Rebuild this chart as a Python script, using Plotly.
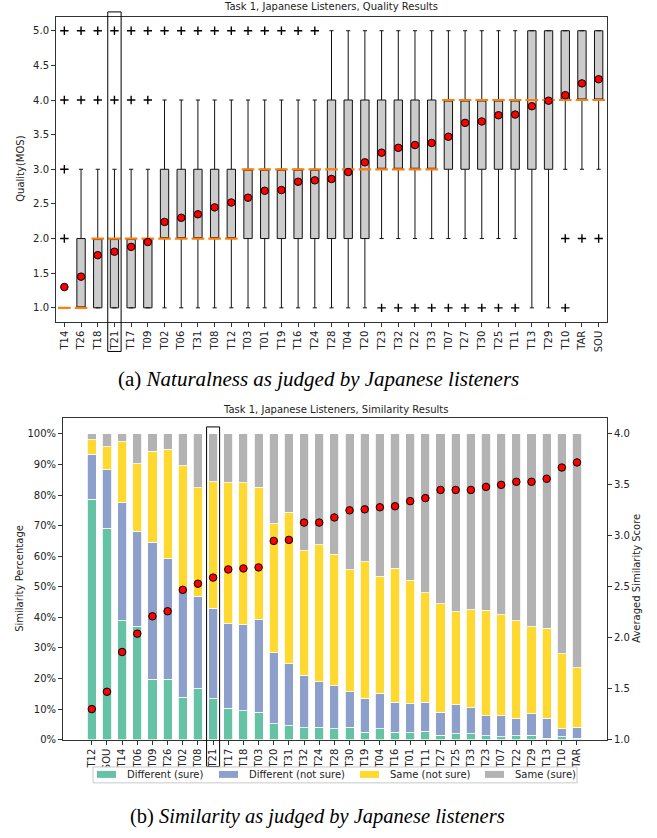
import plotly.graph_objects as go

W, H = 657, 838

# ---------------- Top chart data (Quality MOS) ----------------
cats_top = ["T14", "T26", "T18", "T21", "T17", "T09", "T02", "T06", "T31", "T08", "T12",
            "T03", "T01", "T19", "T16", "T24", "T28", "T04", "T20", "T23", "T32", "T22",
            "T33", "T07", "T27", "T30", "T25", "T11", "T13", "T29", "T10", "TAR", "SOU"]
lower_whisker = [1, 1, 1, 1, 1, 1, 1, 1, 1, 1, 1, 1, 1, 1, 1, 1, 1, 1, 1, 2, 2, 2, 2, 2, 2, 2, 2, 2, 1, 1, 3, 3, 3]
q1_vals =       [1, 1, 1, 1, 1, 1, 2, 2, 2, 2, 2, 2, 2, 2, 2, 2, 2, 2, 2, 3, 3, 3, 3, 3, 3, 3, 3, 3, 3, 3, 4, 4, 4]
median_vals =   [1, 1, 2, 2, 2, 2, 2, 2, 2, 2, 2, 3, 3, 3, 3, 3, 3, 3, 3, 3, 3, 3, 3, 4, 4, 4, 4, 4, 4, 4, 4, 4, 4]
q3_vals =       [1, 2, 2, 2, 2, 2, 3, 3, 3, 3, 3, 3, 3, 3, 3, 3, 4, 4, 4, 4, 4, 4, 4, 4, 4, 4, 4, 4, 5, 5, 5, 5, 5]
upper_whisker = [1, 3, 3, 3, 3, 3, 4, 4, 4, 4, 4, 4, 4, 4, 4, 4, 5, 5, 5, 5, 5, 5, 5, 5, 5, 5, 5, 5, 5, 5, 5, 5, 5]
mean_top = [1.30, 1.45, 1.76, 1.81, 1.88, 1.95, 2.24, 2.30, 2.35, 2.45, 2.52,
            2.59, 2.69, 2.70, 2.82, 2.84, 2.86, 2.96, 3.10, 3.24, 3.31, 3.35,
            3.38, 3.47, 3.67, 3.69, 3.78, 3.79, 3.91, 3.99, 4.07, 4.24, 4.30]
outliers = {
    "T14": [2, 3, 4, 5], "T26": [4, 5], "T18": [4, 5], "T21": [4, 5], "T17": [4, 5], "T09": [4, 5],
    "T02": [5], "T06": [5], "T31": [5], "T08": [5], "T12": [5], "T03": [5], "T01": [5],
    "T19": [5], "T16": [5], "T24": [5],
    "T23": [1], "T32": [1], "T22": [1], "T33": [1], "T07": [1], "T27": [1], "T30": [1],
    "T25": [1], "T11": [1], "T10": [1, 2], "TAR": [2], "SOU": [2],
}
y_ticks_top = [1.0, 1.5, 2.0, 2.5, 3.0, 3.5, 4.0, 4.5, 5.0]

# ---------------- Bottom chart data (Similarity) ----------------
cats_bot = ["T12", "SOU", "T14", "T06", "T09", "T26", "T02", "T08", "T21", "T17", "T18",
            "T03", "T20", "T31", "T32", "T24", "T28", "T30", "T19", "T04", "T16", "T01",
            "T11", "T27", "T25", "T33", "T23", "T07", "T22", "T29", "T13", "T10", "TAR"]
diff_sure = [78.7, 69.2, 38.9, 37.1, 19.7, 19.7, 13.8, 16.8, 13.3, 10.3, 9.4,
             9.0, 5.2, 4.5, 3.9, 4.1, 3.5, 4.0, 2.5, 3.5, 2.5, 2.2,
             2.8, 1.5, 1.9, 1.9, 1.3, 1.0, 1.3, 1.5, 0.5, 1.0, 0.4]
diff_notsure = [14.7, 19.1, 38.5, 31.0, 44.9, 39.5, 35.4, 30.1, 29.7, 27.8, 28.2,
                30.4, 23.3, 20.4, 17.2, 14.8, 14.1, 11.6, 11.1, 11.6, 9.7, 9.6,
                9.5, 7.5, 9.5, 8.6, 6.6, 6.9, 5.7, 6.9, 6.5, 2.5, 3.7]
same_notsure = [4.7, 7.5, 20.0, 22.2, 29.8, 35.8, 40.4, 35.5, 41.3, 45.9, 46.4,
                43.2, 42.3, 49.5, 40.7, 44.8, 43.0, 39.9, 44.6, 38.3, 43.9, 40.4,
                35.7, 35.4, 30.4, 32.0, 34.5, 33.0, 31.9, 28.5, 29.4, 24.6, 19.4]
same_sure = [1.9, 4.2, 2.6, 9.7, 5.6, 5.0, 10.4, 17.6, 15.7, 16.0, 16.0,
             17.4, 29.2, 25.6, 38.2, 36.3, 39.4, 44.5, 41.8, 46.6, 43.9, 47.8,
             52.0, 55.6, 58.2, 57.5, 57.6, 59.1, 61.1, 63.1, 63.6, 71.9, 76.5]
mean_sim = [1.30, 1.47, 1.86, 2.04, 2.21, 2.26, 2.47, 2.53, 2.59, 2.67, 2.68,
            2.69, 2.95, 2.96, 3.13, 3.13, 3.18, 3.25, 3.26, 3.28, 3.29, 3.34,
            3.37, 3.45, 3.45, 3.45, 3.48, 3.50, 3.53, 3.53, 3.56, 3.67, 3.72]
series_names = ["Different (sure)", "Different (not sure)", "Same (not sure)", "Same (sure)"]
series_colors = ["#66c2a5", "#8da0cb", "#ffd92f", "#b3b3b3"]
pct_ticks = [0, 10, 20, 30, 40, 50, 60, 70, 80, 90, 100]
pct_labels = [f"{v}%" for v in pct_ticks]
score_ticks = [1.0, 1.5, 2.0, 2.5, 3.0, 3.5, 4.0]

FONT = "DejaVu Sans"
TXT = "#222222"
AX = "#333333"

def px_x(p):
    return p / W

def px_y(p):
    return 1 - p / H

fig = go.Figure()

# ---- top: boxes ----
fig.add_trace(go.Box(
    x=cats_top, q1=q1_vals, median=median_vals, q3=q3_vals,
    lowerfence=lower_whisker, upperfence=upper_whisker,
    width=0.5, whiskerwidth=0.5, fillcolor="#cccccc",
    line=dict(color="#111111", width=1), showlegend=False,
    xaxis="x", yaxis="y", hoverinfo="skip",
))
fig.add_trace(go.Scatter(
    x=cats_top, y=median_vals, mode="markers",
    marker=dict(symbol="line-ew", size=9, line=dict(color="#ff7f0e", width=2.2)),
    showlegend=False, xaxis="x", yaxis="y", hoverinfo="skip",
))
ox, oy = [], []
for c in cats_top:
    for v in outliers.get(c, []):
        ox.append(c)
        oy.append(v)
fig.add_trace(go.Scatter(
    x=ox, y=oy, mode="markers",
    marker=dict(symbol="cross-thin", size=6, line=dict(color="black", width=1.4)),
    showlegend=False, xaxis="x", yaxis="y", hoverinfo="skip",
))
fig.add_trace(go.Scatter(
    x=cats_top, y=mean_top, mode="markers",
    marker=dict(symbol="circle", size=7.5, color="red", line=dict(color="black", width=1)),
    showlegend=False, xaxis="x", yaxis="y", hoverinfo="skip",
))

# ---- bottom: stacked bars ----
for name, vals, col in zip(series_names, [diff_sure, diff_notsure, same_notsure, same_sure], series_colors):
    fig.add_trace(go.Bar(
        x=cats_bot, y=vals, name=name, width=0.6,
        marker=dict(color=col, line=dict(color="white", width=0.8)),
        xaxis="x2", yaxis="y2", hoverinfo="skip", showlegend=False,
    ))
fig.add_trace(go.Scatter(
    x=cats_bot, y=mean_sim, mode="markers",
    marker=dict(symbol="circle", size=7.5, color="red", line=dict(color="black", width=1)),
    showlegend=False, xaxis="x2", yaxis="y3", hoverinfo="skip",
))

axis_common = dict(
    showline=True, linecolor=AX, linewidth=1, mirror=True,
    ticks="outside", ticklen=4, tickcolor=AX, tickwidth=1,
    showgrid=False, zeroline=False,
    tickfont=dict(family=FONT, size=10, color=TXT),
)

fig.update_layout(
    width=W, height=H,
    margin=dict(l=0, r=0, t=0, b=0),
    paper_bgcolor="white", plot_bgcolor="white",
    barmode="stack",
    showlegend=False,
    font=dict(family=FONT, size=10, color=TXT),
    xaxis=dict(domain=[px_x(56), px_x(607)], anchor="y", type="category",
               categoryorder="array", categoryarray=cats_top,
               range=[-0.5, len(cats_top) - 0.5], tickangle=-90, **axis_common),
    yaxis=dict(domain=[px_y(324), px_y(17)], anchor="x", range=[0.8, 5.2],
               tickvals=y_ticks_top, tickformat=".1f", **axis_common),
    xaxis2=dict(domain=[px_x(63), px_x(607)], anchor="y2", type="category",
                categoryorder="array", categoryarray=cats_bot,
                range=[-1.9, len(cats_bot) + 0.98], tickangle=-90, **axis_common),
    yaxis2=dict(domain=[px_y(745), px_y(421)], anchor="x2", range=[0, 105.2],
                tickvals=pct_ticks, ticktext=pct_labels, **axis_common),
    yaxis3=dict(overlaying="y2", anchor="x2", side="right", range=[1.0, 1.0 + 3.0 * 105.2 / 100],
                tickvals=score_ticks, tickformat=".1f",
                showline=False, ticks="outside", ticklen=4, tickcolor=AX,
                showgrid=False, zeroline=False,
                tickfont=dict(family=FONT, size=10, color=TXT)),
)

small = dict(size=10, family=FONT, color=TXT)
cap = dict(size=21, family="Liberation Serif", color="black")
ann = [
    dict(text="Task 1, Japanese Listeners, Quality Results", x=px_x(331), y=px_y(7), font=small),
    dict(text="Task 1, Japanese Listeners, Similarity Results", x=px_x(335), y=px_y(412), font=small),
    dict(text="Quality(MOS)", x=px_x(21), y=px_y(170), textangle=-90, font=small),
    dict(text="Similarity Percentage", x=px_x(20), y=px_y(583), textangle=-90, font=small),
    dict(text="Averaged Similarity Score", x=px_x(637), y=px_y(583), textangle=-90, font=small),
    dict(text="(a) <i>Naturalness as judged by Japanese listeners</i>", x=px_x(318), y=px_y(382), font=cap),
    dict(text="(b) <i>Similarity as judged by Japanese listeners</i>", x=px_x(317), y=px_y(822),
         font=dict(size=20.5, family="Liberation Serif", color="black")),
]
for a in ann:
    a.update(xref="paper", yref="paper", showarrow=False, xanchor="center", yanchor="middle")

i_top = cats_top.index("T21")
i_bot = cats_bot.index("T21")
shapes = [
    dict(type="rect", xref="x", yref="paper", x0=i_top - 0.4, x1=i_top + 0.4,
         y0=px_y(354), y1=px_y(12), line=dict(color="black", width=1), layer="above"),
    dict(type="rect", xref="x2", yref="paper", x0=i_bot - 0.43, x1=i_bot + 0.43,
         y0=px_y(772), y1=px_y(430), line=dict(color="black", width=1), layer="above"),
    # legend frame
    dict(type="rect", xref="paper", yref="paper", x0=px_x(93), x1=px_x(577),
         y0=px_y(788.5), y1=px_y(772.5), line=dict(color="#c8c8c8", width=1),
         fillcolor="white", layer="above"),
]
# manual legend entries (swatch + label)
swatch_x = [97, 219, 360, 485]
for name, col, sx in zip(series_names, series_colors, swatch_x):
    shapes.append(dict(type="rect", xref="paper", yref="paper", x0=px_x(sx), x1=px_x(sx + 19),
                       y0=px_y(783.5), y1=px_y(776.5), line=dict(width=0), fillcolor=col, layer="above"))
    ann.append(dict(text=name, x=px_x(sx + 28), y=px_y(780.5), xanchor="left", yanchor="middle",
                    xref="paper", yref="paper", showarrow=False, font=small))

fig.update_layout(annotations=ann, shapes=shapes)

fig.write_html("out.html", config={"displayModeBar": False},
               post_script="document.body.style.margin='0';document.body.style.padding='0';")
